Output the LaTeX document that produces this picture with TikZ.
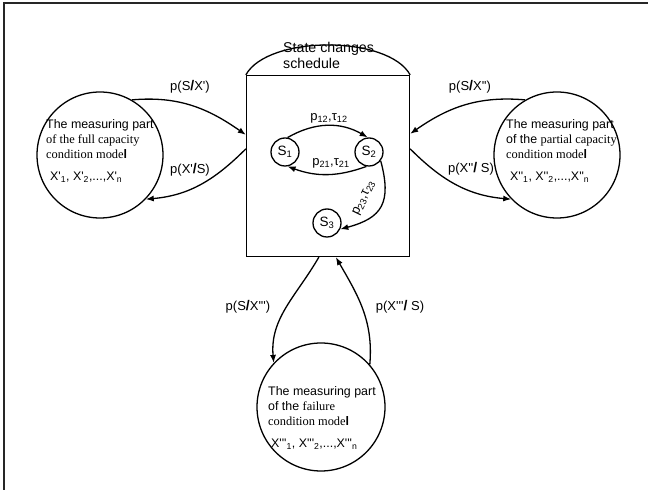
\documentclass[tikz,border=0pt]{standalone}
\usepackage{fontspec}
\setmainfont{Liberation Sans}
\newfontfamily\timesfont{Liberation Serif}
\usetikzlibrary{arrows.meta,calc}
\newcommand\apos{\textquotesingle}
\newcommand\heavyslash{{\fontsize{14}{14}\selectfont\bfseries /}}

\begin{document}
\begin{tikzpicture}[x=1pt,y=1pt,
	state/.style={circle,draw,line width=1.3pt,minimum size=28pt,inner sep=0pt,font=\fontsize{13.5}{15}\selectfont},
	model/.style={circle,draw,line width=1.3pt,minimum size=126pt,inner sep=0pt},
	txt/.style={align=left,anchor=west,inner sep=0pt,font=\fontsize{12.4}{15}\selectfont},
	lbl/.style={inner sep=1pt,font=\fontsize{13}{15}\selectfont},
	link/.style={line width=1.3pt,-{Latex[length=8pt,width=6pt]}}]
	\useasboundingbox (0,0) rectangle (648,490);
	\draw[line width=1.5pt,black!85] (4,0) -- (4,487) -- (648,487);
	\node[draw,line width=1.3pt,minimum width=163pt,minimum height=181pt,inner sep=0pt] (sched) at (328,324) {};
	\draw[line width=1.3pt] (sched.north west) .. controls (268,455) and (388,455) .. (sched.north east);
	\node[txt,font=\fontsize{14.2}{16}\selectfont] (title) at (283,435) {State changes\\schedule};
	\node[state] (s1) at (285,338) {S\textsubscript{1}};
	\node[state] (s2) at (369,338) {S\textsubscript{2}};
	\node[state] (s3) at (327,267) {S\textsubscript{3}};
	\draw[link] (s1.80) to[out=30,in=150] (s2.95);
	\draw[link] (s2.-100) to[out=200,in=-20] (s1.-80);
	\draw[link] (s2.-37) to[out=-75,in=15,looseness=1.4] (s3.-25);
	\node[lbl] (p12) at (329,372) {p\textsubscript{12},τ\textsubscript{12}};
	\node[lbl] (p21) at (331,327) {p\textsubscript{21},τ\textsubscript{21}};
	\node[lbl,rotate=64] (p23) at (364,292) {p\textsubscript{23},τ\textsubscript{23}};
	\node[model] (c1) at (100,335) {};
	\node[model] (c2) at (557,335) {};
	\node[model,minimum size=128pt] (c3) at (321,83) {};
	\node[txt] (c1txt) at (46,351) {The measuring part\\{\timesfont of the full capacity}\\{\timesfont condition mode}{\bfseries l}};
	\node[txt] (c1x) at (50,313) {X\apos\textsubscript{1}, X\apos\textsubscript{2},...,X\apos\textsubscript{n}};
	\node[txt] (c2txt) at (506,351) {The measuring part\\of the {\timesfont partial capacity}\\{\timesfont condition mode}{\bfseries l}};
	\node[txt] (c2x) at (510,313) {X\apos\apos\textsubscript{1}, X\apos\apos\textsubscript{2},...,X\apos\apos\textsubscript{n}};
	\node[txt] (c3txt) at (268,84) {The measuring part\\of the {\timesfont failure}\\{\timesfont condition mode}{\bfseries l}};
	\node[txt] (c3x) at (271,46) {X\apos\apos\apos\textsubscript{1}, X\apos\apos\apos\textsubscript{2},...,X\apos\apos\apos\textsubscript{n}};
	\coordinate (w1) at ($(sched.north west)+(0,-60)$);
	\coordinate (w2) at ($(sched.north west)+(0,-74)$);
	\coordinate (e1) at ($(sched.north east)+(0,-59)$);
	\coordinate (e2) at ($(sched.north east)+(0,-74)$);
	\coordinate (b1) at ($(sched.south west)+(73,0)$);
	\coordinate (b2) at ($(sched.south west)+(90,0)$);
	\draw[link] (c1.60) to[out=5,in=145] (w1);
	\draw[link] (w2) to[out=225,in=5] (c1.-44);
	\draw[link] (c2.120) to[out=175,in=35] (e1);
	\draw[link] (e2) to[out=-45,in=175] (c2.-136);
	\draw[link] (b1) to[out=240,in=95] (c3.137);
	\draw[link] (c3.41) to[out=85,in=-60] (b2);
	\node[lbl] (l1) at (190,403) {p(S\heavyslash X\apos)};
	\node[lbl] (l2) at (190,320) {p(X\apos\heavyslash S)};
	\node[lbl] (l3) at (470,403) {p(S\heavyslash X\apos\apos)};
	\node[lbl] (l4) at (471,321) {p(X\apos\apos\heavyslash\ S)};
	\node[lbl] (l5) at (248,183) {p(S\heavyslash X\apos\apos\apos)};
	\node[lbl] (l6) at (400,183) {p(X\apos\apos\apos\heavyslash\ S)};
\end{tikzpicture}
\end{document}
